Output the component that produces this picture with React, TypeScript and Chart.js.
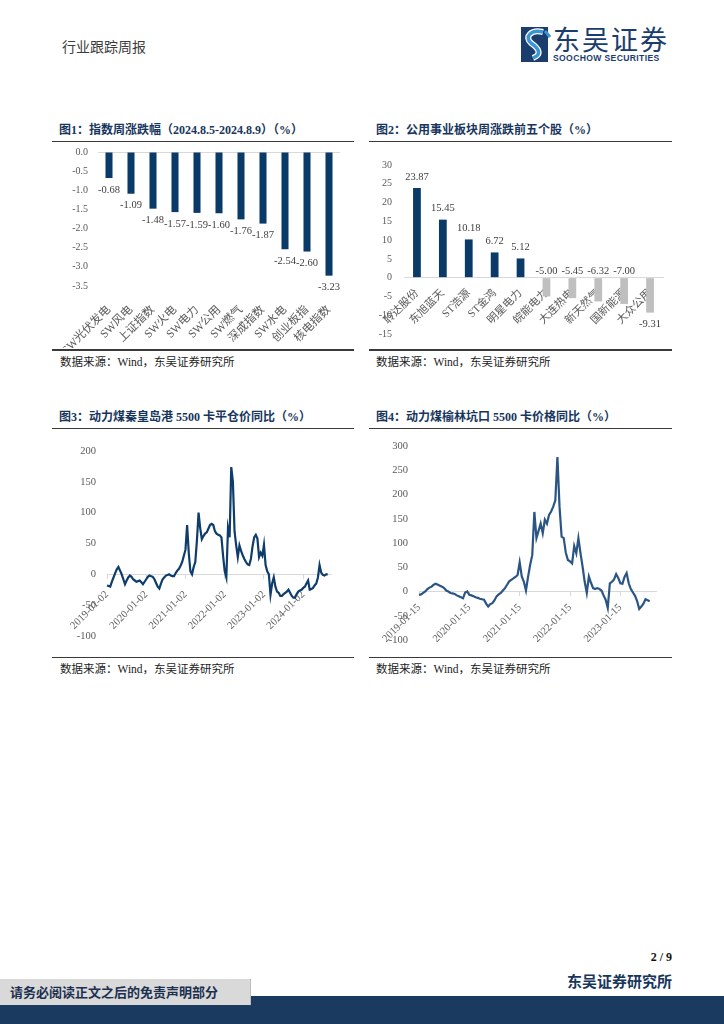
import React, { useEffect, useRef } from "react";
import { Chart, registerables } from "chart.js";

Chart.register(...registerables);

const SERIF = '"Liberation Serif", "Noto Sans CJK SC", serif';
const CJK = '"Noto Sans CJK SC", "Liberation Serif", sans-serif';
Chart.defaults.font.family = SERIF;

// ---------- Data ----------
const indexCategories = ["SW光伏发电", "SW风电", "上证指数", "SW火电", "SW电力", "SW公用", "SW燃气", "深成指数", "SW水电", "创业板指", "核电指数"];
const indexValues = [-0.68, -1.09, -1.48, -1.57, -1.59, -1.6, -1.76, -1.87, -2.54, -2.6, -3.23];

const stockCategories = ["聆达股份", "东旭蓝天", "ST浩源", "ST金鸿", "明星电力", "皖能电力", "大连热电", "新天然气", "国新能源", "大众公用"];
const stockValues = [23.87, 15.45, 10.18, 6.72, 5.12, -5.0, -5.45, -6.32, -7.0, -9.31];

const qhdYears = [2019, 2020, 2021, 2022, 2023, 2024];
const qhdDays = ["02", "16"];
const qhdTickSuffix = "-01-02";
const qhdValues = [
  -18, -19, -20, -12, -5, 2, 8, 12, 6, 0, -8, -16, -10, -5, -2, -4, -8, -10, -12, -11, -10, -13, -16, -12,
  -8, -4, -2, -3, -4, -8, -14, -20, -23, -15, -8, -5, -2, -1, 0, -2, -3, -3, 2, 6, 9, 14, 20, 30,
  40, 80, 35, 5, 0, 12, 20, 55, 100, 75, 57, 62, 66, 68, 74, 80, 82, 80, 70, 66, 64, 63, 60, 30,
  5, -5, 75, 60, 174, 150, 70, 47, 28, 47, 38, 31, 25, 20, 16, 15, 25, 45, 60, 64, 58, 28, 35, 30,
  48, 15, 5, 0, -33, -15, -5, -20, -28, -30, -35, -35, -32, -30, -28, -25, -30, -35, -38, -38, -32, -28, -26, -25,
  -22, -20, -15, -10, -25, -24, -22, -18, -15, -5, 15, 3, -1, -2, 0, 0,
];

const ylYears = [2019, 2020, 2021, 2022, 2023];
const ylDays = ["15", "29"];
const ylTickSuffix = "-01-15";
const ylValues = [
  -7, -6, -3, 0, 5, 8, 10, 14, 16, 14, 12, 10, 7, 2, 0, -3, -4, -5, -8, -10, -12, -14, -2, 0,
  -7, -8, -10, -12, -13, -15, -16, -17, -25, -31, -26, -24, -18, -10, -6, -3, 2, 7, 14, 21, 24, 27, 30, 34,
  60, 31, 20, 2, 30, 55, 75, 164, 110, 125, 140, 120, 148, 140, 158, 165, 175, 188, 277, 175, 113, 110, 80, 65,
  62, 58, 94, 79, 110, 79, 51, 20, -3, 31, 18, 7, 5, 7, 5, 2, -8, -17, -34, 17, 20, 25, 36, 28,
  17, 16, 30, 38, 17, 5, -2, -9, -20, -36, -31, -25, -16, -18, -20,
];

function buildDates(years: number[], days: string[], count: number): string[] {
  const out: string[] = [];
  for (const y of years) {
    for (let m = 1; m <= 12; m++) {
      for (const d of days) out.push(`${y}-${String(m).padStart(2, "0")}-${d}`);
    }
  }
  return out.slice(0, count);
}
const qhdDates = buildDates(qhdYears, qhdDays, 138);
const ylDates = buildDates(ylYears, ylDays, 114);

// ---------- Styles ----------
const NAVY = "#0A3A68";
const GRAY_BAR = "#BFBFBF";
const TICK = "#595959";
const ZERO = "#D9D9D9";
const CLEAR = "rgba(0,0,0,0)";

function barLabels(mode: "index" | "stock") {
  return {
    id: "barLabels",
    afterDatasetsDraw(chart: any) {
      const ctx = chart.ctx;
      const meta = chart.getDatasetMeta(0);
      const data = chart.data.datasets[0].data as number[];
      const zeroY = chart.scales.y.getPixelForValue(0);
      ctx.save();
      ctx.font = `10.5px ${SERIF}`;
      ctx.fillStyle = "#404040";
      ctx.textAlign = "center";
      ctx.textBaseline = "middle";
      meta.data.forEach((el: any, i: number) => {
        const v = data[i];
        let y: number;
        if (v >= 0) y = el.y - 11;
        else if (mode === "stock" && v > -9) y = zeroY - 6;
        else y = el.y + 12;
        ctx.fillText(v.toFixed(2), el.x, y);
      });
      ctx.restore();
    },
  };
}

function ChartBox({ left, top, width, height, make }: { left: number; top: number; width: number; height: number; make: () => any }) {
  const ref = useRef<HTMLCanvasElement | null>(null);
  useEffect(() => {
    if (!ref.current) return;
    const chart = new Chart(ref.current, make());
    return () => chart.destroy();
  }, []);
  return (
    <canvas
      ref={ref}
      width={width}
      height={height}
      style={{ position: "absolute", left, top, width, height }}
    />
  );
}

const tickFont = (size: number) => ({ size, family: SERIF });

function indexChart() {
  return {
    type: "bar",
    data: {
      labels: indexCategories,
      datasets: [{ data: indexValues, backgroundColor: NAVY, barPercentage: 0.32, categoryPercentage: 1 }],
    },
    options: {
      animation: false,
      responsive: false,
      maintainAspectRatio: false,
      layout: { padding: { top: 9, right: 14, left: 0, bottom: 0 } },
      plugins: { legend: { display: false }, tooltip: { enabled: false } },
      scales: {
        x: {
          grid: { display: false },
          border: { display: false },
          ticks: { minRotation: 45, maxRotation: 45, autoSkip: false, color: TICK, font: tickFont(11.5), padding: 9 },
          afterFit: (s: any) => { s.height = 62; },
        },
        y: {
          min: -3.5,
          max: 0,
          ticks: { stepSize: 0.5, color: TICK, font: tickFont(10), padding: 0, callback: (v: any) => Number(v).toFixed(1) },
          grid: { color: (c: any) => (c.tick && c.tick.value === 0 ? ZERO : CLEAR), drawTicks: true, tickLength: 10, tickColor: CLEAR },
          border: { display: false },
          afterFit: (s: any) => { s.width = 46; },
        },
      },
    },
    plugins: [barLabels("index")],
  };
}

function stockChart() {
  return {
    type: "bar",
    data: {
      labels: stockCategories,
      datasets: [{
        data: stockValues,
        backgroundColor: stockValues.map((v) => (v >= 0 ? NAVY : GRAY_BAR)),
        barPercentage: 0.3,
        categoryPercentage: 1,
      }],
    },
    options: {
      animation: false,
      responsive: false,
      maintainAspectRatio: false,
      layout: { padding: { top: 22, right: 9, left: 0, bottom: 14 } },
      plugins: { legend: { display: false }, tooltip: { enabled: false } },
      scales: {
        x: {
          position: { y: 0 },
          grid: { display: true, drawOnChartArea: false, drawTicks: false },
          border: { display: true, color: ZERO, width: 1 },
          ticks: { minRotation: 45, maxRotation: 45, autoSkip: false, color: TICK, font: tickFont(11), padding: 9 },
          afterFit: (s: any) => { s.height = 0; },
        },
        y: {
          min: -15,
          max: 30,
          ticks: { stepSize: 5, color: TICK, font: tickFont(10), padding: 0 },
          grid: { display: true, color: CLEAR, drawOnChartArea: false, drawTicks: true, tickLength: 12, tickColor: CLEAR },
          border: { display: false },
          afterFit: (s: any) => { s.width = 35; },
        },
      },
    },
    plugins: [barLabels("stock")],
  };
}

function lineChart(labels: string[], values: number[], suffix: string, color: string, min: number, max: number, yWidth: number, pad: any, xPad: number) {
  return {
    type: "line",
    data: {
      labels,
      datasets: [{ data: values, borderColor: color, borderWidth: 2.2, pointRadius: 0, tension: 0, fill: false }],
    },
    options: {
      animation: false,
      responsive: false,
      maintainAspectRatio: false,
      layout: { padding: pad },
      plugins: { legend: { display: false }, tooltip: { enabled: false } },
      scales: {
        x: {
          position: { y: 0 },
          offset: false,
          grid: { display: true, drawOnChartArea: false, drawTicks: true, tickLength: 4, color: ZERO },
          border: { display: true, color: ZERO, width: 1 },
          ticks: {
            minRotation: 45,
            maxRotation: 45,
            autoSkip: false,
            color: TICK,
            font: tickFont(10.5),
            padding: xPad,
            callback: function (this: any, value: any) {
              const lab = this.getLabelForValue(value);
              return lab.slice(4) === suffix ? lab : null;
            },
          },
          afterFit: (s: any) => { s.height = 0; },
        },
        y: {
          min,
          max,
          ticks: { stepSize: 50, color: TICK, font: tickFont(10.5), padding: 0 },
          grid: { display: true, color: CLEAR, drawOnChartArea: false, drawTicks: true, tickLength: 11, tickColor: CLEAR },
          border: { display: false },
          afterFit: (s: any) => { s.width = yWidth; },
        },
      },
    },
  };
}

function Txt({ x, y, children, style }: { x: number; y: number; children: any; style?: any }) {
  return (
    <div style={{ position: "absolute", left: x, top: y, whiteSpace: "nowrap", ...style }}>{children}</div>
  );
}

const titleStyle = { fontFamily: SERIF, fontWeight: 700, fontSize: 12, lineHeight: "16px", color: "#17365D" };
const srcStyle = { fontFamily: SERIF, fontSize: 11.5, lineHeight: "14px", color: "#222" };

function Rule({ x, y, w }: { x: number; y: number; w: number }) {
  return <div style={{ position: "absolute", left: x, top: y, width: w, height: 1.6, background: "#3a3a3a" }} />;
}

export default function App() {
  return (
    <div style={{ position: "absolute", left: 0, top: 0, width: 724, height: 1024, background: "#fff", overflow: "hidden" }}>
      {/* header */}
      <Txt x={62} y={37} style={{ fontFamily: CJK, fontSize: 14, lineHeight: "18px", color: "#3c3c3c" }}>行业跟踪周报</Txt>
      <svg style={{ position: "absolute", left: 521, top: 27 }} width={30} height={35} viewBox="0 0 30 35">
        <rect x={0} y={0} width={27} height={35} fill="#1B3D6E" />
        <path d="M22 5 C 10 2, 3 10, 10 16 C 17 21, 22 27, 12 31" stroke="#FFFFFF" strokeWidth={6} fill="none" />
        <path d="M22 5 C 10 2, 3 10, 10 16 C 17 21, 22 27, 12 31" stroke="#3B96D4" strokeWidth={3.5} fill="none" />
        <path d="M24 4 L 29 10" stroke="#3B96D4" strokeWidth={3} />
      </svg>
      <Txt x={553} y={22} style={{ fontFamily: CJK, fontSize: 27, lineHeight: "34px", color: "#1B3D6E", letterSpacing: 2 }}>东吴证券</Txt>
      <Txt x={553} y={53} style={{ fontFamily: '"Liberation Sans", sans-serif', fontWeight: 700, fontSize: 8.6, lineHeight: "10px", color: "#1B3D6E", letterSpacing: 0.35 }}>SOOCHOW SECURITIES</Txt>

      {/* chart 1 */}
      <Txt x={59} y={122} style={titleStyle}>图1：指数周涨跌幅（2024.8.5-2024.8.9）（%）</Txt>
      <Rule x={52} y={140.5} w={302} />
      <ChartBox left={52} top={143} width={302} height={205} make={indexChart} />
      <Rule x={52} y={349} w={302} />
      <Txt x={60} y={355} style={srcStyle}>数据来源：Wind，东吴证券研究所</Txt>

      {/* chart 2 */}
      <Txt x={376} y={122} style={titleStyle}>图2：公用事业板块周涨跌前五个股（%）</Txt>
      <Rule x={369} y={140.5} w={303} />
      <ChartBox left={369} top={143} width={303} height={205} make={stockChart} />
      <Rule x={369} y={349} w={303} />
      <Txt x={376} y={355} style={srcStyle}>数据来源：Wind，东吴证券研究所</Txt>

      {/* chart 3 */}
      <Txt x={59} y={409} style={titleStyle}>图3：动力煤秦皇岛港 5500 卡平仓价同比（%）</Txt>
      <Rule x={52} y={427.5} w={302} />
      <ChartBox
        left={52}
        top={429}
        width={302}
        height={227}
        make={() => lineChart(qhdDates, qhdValues, qhdTickSuffix, "#0E3D6B", -100, 200, 55, { top: 22, right: 23, left: 0, bottom: 20 }, 10)}
      />
      <Rule x={52} y={656.5} w={302} />
      <Txt x={60} y={662} style={srcStyle}>数据来源：Wind，东吴证券研究所</Txt>

      {/* chart 4 */}
      <Txt x={376} y={409} style={titleStyle}>图4：动力煤榆林坑口 5500 卡价格同比（%）</Txt>
      <Rule x={369} y={427.5} w={303} />
      <ChartBox
        left={369}
        top={429}
        width={303}
        height={227}
        make={() => lineChart(ylDates, ylValues, ylTickSuffix, "#2A5585", -100, 300, 50, { top: 17, right: 16, left: 0, bottom: 16 }, 6)}
      />
      <Rule x={369} y={656.5} w={303} />
      <Txt x={376} y={662} style={srcStyle}>数据来源：Wind，东吴证券研究所</Txt>

      {/* footer */}
      <Txt x={620} y={949} style={{ fontFamily: SERIF, fontWeight: 700, fontSize: 12, lineHeight: "16px", color: "#111", width: 52, textAlign: "right" }}>2 / 9</Txt>
      <Txt x={560} y={971} style={{ fontFamily: CJK, fontWeight: 700, fontSize: 15, lineHeight: "20px", color: "#17365D", width: 112, textAlign: "right" }}>东吴证券研究所</Txt>
      <div style={{ position: "absolute", left: 0, top: 996, width: 724, height: 28, background: "#1B3A5F" }} />
      <div style={{ position: "absolute", left: 0, top: 979, width: 250, height: 26, background: "#D9D9D9", borderRight: "1px solid #bbb" }} />
      <Txt x={10} y={983} style={{ fontFamily: CJK, fontWeight: 700, fontSize: 13, lineHeight: "18px", color: "#1B3050" }}>请务必阅读正文之后的免责声明部分</Txt>
    </div>
  );
}
